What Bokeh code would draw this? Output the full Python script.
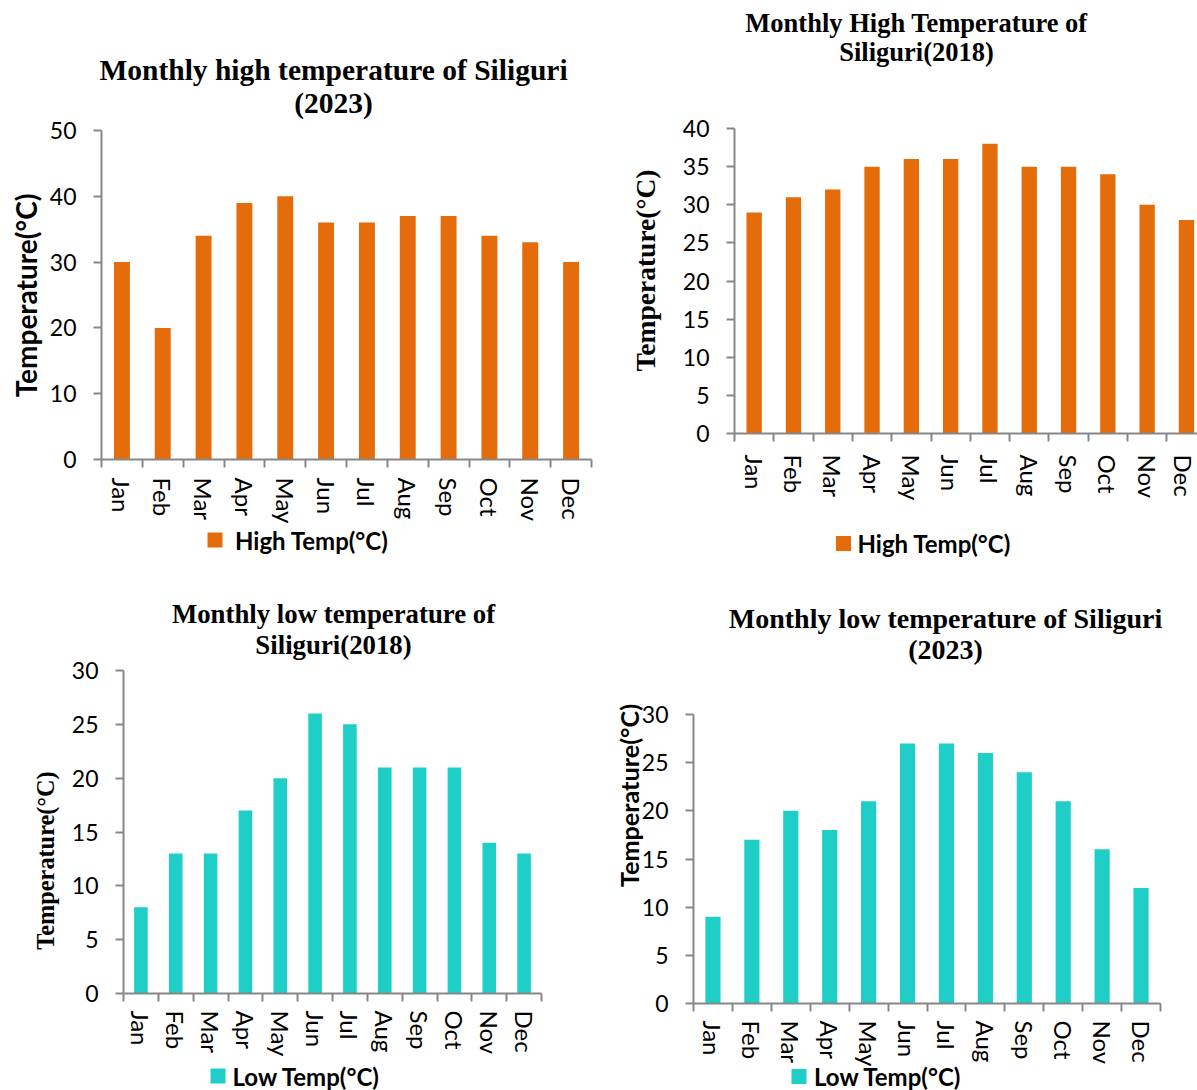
import math

from bokeh.core.properties import value
from bokeh.embed import file_html
from bokeh.models import FixedTicker, Range1d
from bokeh.plotting import figure
from bokeh.resources import INLINE

# ---- data -------------------------------------------------------------
months = ["Jan", "Feb", "Mar", "Apr", "May", "Jun",
          "Jul", "Aug", "Sep", "Oct", "Nov", "Dec"]
high_2023 = [30, 20, 34, 39, 40, 36, 36, 37, 37, 34, 33, 30]
high_2018 = [29, 31, 32, 35, 36, 36, 38, 35, 35, 34, 30, 28]
low_2018 = [8, 13, 13, 17, 20, 26, 25, 21, 21, 21, 14, 13]
low_2023 = [9, 17, 20, 18, 21, 27, 27, 26, 24, 21, 16, 12]

y_ticks_high_2023 = [0, 10, 20, 30, 40, 50]
y_ticks_high_2018 = [0, 5, 10, 15, 20, 25, 30, 35, 40]
y_ticks_low = [0, 5, 10, 15, 20, 25, 30]

# ---- style ------------------------------------------------------------
ORANGE = "#e46c0a"
TEAL = "#1fcfc7"
AXIS_GREY = "#878787"
SANS = "Lato"
SERIF = "Liberation Serif"
PAGE_W, PAGE_H = 1197, 1090


def place(p, left, top):
    p.styles = {"position": "absolute", "left": f"{left}px", "top": f"{top}px"}


def make_chart(values, color, y_ticks, spec):
    ox, oy, w, h = spec["box"]
    fl, ft, fr, fb = spec["frame"]
    n = len(months)
    x_end = spec.get("x_end", n)

    p = figure(frame_width=fr - fl, frame_height=fb - ft,
               output_backend="svg", toolbar_location=None,
               x_range=Range1d(0, x_end), y_range=Range1d(y_ticks[0], y_ticks[-1]),
               min_border_left=fl - ox, min_border_right=ox + w - fr,
               min_border_top=ft - oy, min_border_bottom=oy + h - fb)
    place(p, ox, oy)
    p.outline_line_color = None
    p.xgrid.visible = False
    p.ygrid.visible = False
    p.background_fill_color = "white"
    p.border_fill_alpha = 0

    centers = [i + 0.5 for i in range(n)]
    p.vbar(x=centers, top=values, bottom=0, width=0.39,
           fill_color=color, line_color=None)

    # x axis: month names at bar centres, short ticks on category boundaries
    xa = p.xaxis[0]
    xa.ticker = FixedTicker(ticks=centers, minor_ticks=list(range(n + 1)))
    xa.major_label_overrides = {c: m for c, m in zip(centers, months)}
    xa.major_label_orientation = "vertical"
    xa.major_tick_out = 0
    xa.major_tick_in = 0
    xa.minor_tick_out = 8
    xa.minor_tick_in = 0
    xa.minor_tick_line_color = AXIS_GREY
    xa.minor_tick_line_width = 2
    xa.axis_line_color = AXIS_GREY
    xa.axis_line_width = 2
    xa.major_label_standoff = spec["month_standoff"]
    xa.major_label_text_font = SANS
    xa.major_label_text_font_size = "24px"
    xa.major_label_text_color = "#000000"

    ya = p.yaxis[0]
    ya.ticker = FixedTicker(ticks=y_ticks)
    ya.minor_tick_out = 0
    ya.minor_tick_in = 0
    ya.major_tick_out = 8
    ya.major_tick_in = 0
    ya.major_tick_line_color = AXIS_GREY
    ya.major_tick_line_width = 2
    ya.axis_line_color = AXIS_GREY
    ya.axis_line_width = 2
    ya.major_label_standoff = 17
    ya.major_label_text_font = SANS
    ya.major_label_text_font_size = "23px"
    ya.major_label_text_color = "#000000"
    return p


chart_hi_23 = make_chart(
    high_2023, ORANGE, y_ticks_high_2023,
    dict(box=(0, 0, 620, 560), frame=(101, 130, 591, 459), month_standoff=10))

chart_hi_18 = make_chart(
    high_2018, ORANGE, y_ticks_high_2018,
    dict(box=(620, 0, 577, 560), frame=(734, 128, 1197, 433), month_standoff=13,
         x_end=(1197 - 734) / 39.3))

chart_lo_18 = make_chart(
    low_2018, TEAL, y_ticks_low,
    dict(box=(0, 560, 620, 530), frame=(123, 670, 541, 993), month_standoff=9))

chart_lo_23 = make_chart(
    low_2023, TEAL, y_ticks_low,
    dict(box=(620, 560, 577, 530), frame=(693, 714, 1160, 1003), month_standoff=9))

# ---- titles, value-axis titles and legends, laid out on the page ---------
titles = [
    # (text, centre x, baseline y, size)
    ("Monthly high temperature of Siliguri", 333, 69, "29.5px"),
    ("(2023)", 333, 102, "29.5px"),
    ("Monthly High Temperature of", 916, 22, "26.5px"),
    ("Siliguri(2018)", 916, 51, "26.5px"),
    ("Monthly low temperature of", 333, 613, "26.8px"),
    ("Siliguri(2018)", 333, 644, "26.8px"),
    ("Monthly low temperature of Siliguri", 945, 618, "28px"),
    ("(2023)", 945, 649, "28px"),
]
axis_titles = [
    # (centre x, centre y, font, size)
    (25.5, 295, SANS, "28px"),
    (645, 270, SERIF, "27.5px"),
    (45, 860, SERIF, "24.3px"),
    (628.5, 795, SANS, "25.2px"),
]
legend_keys = [
    # (series name, colour, key centre x, key centre y, label left x, label size)
    ("High Temp(°C)", ORANGE, 214.5, 539.5, 234.5, "24px"),
    ("High Temp(°C)", ORANGE, 843, 543, 857, "24px"),
    ("Low Temp(°C)", TEAL, 217.5, 1075.5, 232, "24px"),
    ("Low Temp(°C)", TEAL, 798.5, 1076, 813.5, "24px"),
]

page = figure(width=PAGE_W, height=PAGE_H, output_backend="svg", toolbar_location=None,
              x_range=Range1d(0, PAGE_W), y_range=Range1d(PAGE_H, 0),
              x_axis_type=None, y_axis_type=None, min_border=0)
place(page, 0, 0)
page.outline_line_color = None
page.background_fill_alpha = 0
page.border_fill_alpha = 0
page.grid.visible = False

for text, cx, base, size in titles:
    page.text(x=[cx], y=[base], text=[text], text_align="center",
              text_baseline="alphabetic", text_font=value(SERIF),
              text_font_style="bold", text_font_size=size, text_color="#000000")

for cx, cy, font, size in axis_titles:
    page.text(x=[cx], y=[cy], text=["Temperature(°C)"], angle=math.pi / 2,
              text_align="center", text_baseline="middle", text_font=value(font),
              text_font_style="bold", text_font_size=size, text_color="#000000")

for name, color, kx, ky, lx, size in legend_keys:
    page.scatter(x=[kx], y=[ky], marker="square", size=15,
                 fill_color=color, line_color=None)
    page.text(x=[lx], y=[ky], text=[name], text_align="left", text_baseline="middle",
              text_font=value(SANS), text_font_style="bold", text_font_size=size,
              text_color="#000000")

with open("out.html", "w") as fh:
    fh.write(file_html([chart_hi_23, chart_hi_18, chart_lo_18, chart_lo_23, page], INLINE))
